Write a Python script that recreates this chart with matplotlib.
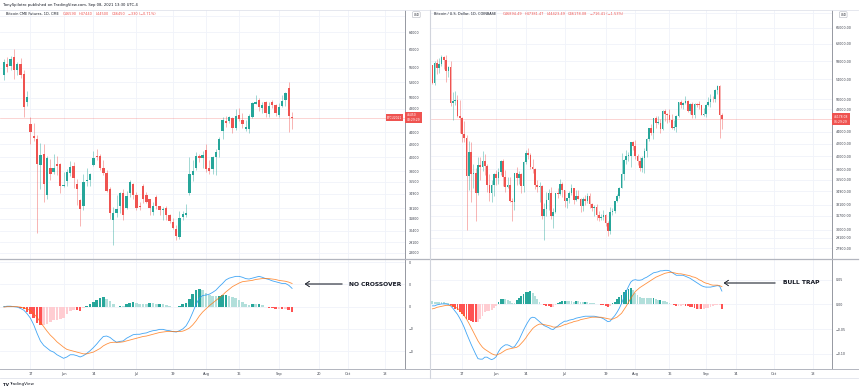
import matplotlib
matplotlib.use('Agg')
import matplotlib.pyplot as plt
from matplotlib.lines import Line2D
from matplotlib.ticker import NullLocator
import numpy as np

W, H = 860, 391

# Bitcoin CME futures, one bar per trading day, May 5 - Sep 8 2021
cme_open = [54500, 56800, 56300, 58200, 55600, 56700, 54600, 49200, 45300, 43400,
            42900, 38900, 40600, 34700, 38400, 37900, 39000, 39000, 36000, 36600,
            37800, 38800, 36200, 34100, 33400, 36600, 36800, 38900, 40300, 40200,
            38500, 37700, 35500, 31700, 32500, 33400, 35000, 33100, 35000, 36200,
            34800, 33400, 36000, 34800, 34200, 32600, 34500, 33300, 32800, 33100,
            32300, 31400, 30600, 29700, 32000, 32300, 35000, 37400, 38400, 40300,
            39900, 41200, 38400, 38300, 40000, 41100, 44200, 45800, 45800, 46300,
            44600, 46900, 46000, 44500, 44500, 46600, 48900, 49600, 48100, 49300,
            47100, 49200, 48700, 46900, 48600, 49600, 51900, 46590]
cme_high = [57800, 58300, 58400, 60000, 57200, 58000, 55500, 51400, 46600, 45600,
            43500, 42300, 42100, 40200, 39800, 40500, 40300, 39200, 37900, 38300,
            39500, 39300, 36900, 34300, 37600, 38400, 37800, 41000, 41300, 40500,
            39600, 38200, 35800, 33200, 34700, 35200, 35500, 35300, 36700, 36300,
            35100, 33900, 36200, 35100, 34300, 33900, 34800, 33400, 33200, 33300,
            32400, 31900, 31100, 32700, 32700, 33600, 40000, 39600, 40900, 40600,
            41000, 42000, 39600, 40300, 41300, 43200, 46500, 46700, 46800, 46500,
            47900, 48200, 47200, 46000, 47000, 49300, 50600, 49900, 49300, 49400,
            49200, 49700, 48900, 49000, 50500, 51100, 53100, 47440]
cme_low = [53500, 55200, 55500, 53600, 54400, 53800, 46500, 48500, 42100, 42500,
           30200, 35500, 33800, 34300, 36800, 37600, 37400, 35000, 35800, 36000,
           37300, 35700, 33500, 31000, 32800, 35900, 35900, 38700, 39600, 38200,
           37500, 35200, 31800, 28800, 32000, 32500, 31600, 33000, 34500, 34200,
           32900, 32800, 33700, 33700, 32300, 32300, 33000, 32300, 31700, 31700,
           31300, 30600, 29400, 29500, 31700, 32000, 34800, 36600, 38200, 39300,
           38400, 37900, 37600, 37600, 37500, 40000, 42900, 44800, 45500, 43800,
           44300, 45800, 44600, 44200, 43900, 46400, 48800, 47600, 47300, 46600,
           46500, 48100, 46800, 46600, 48400, 48500, 44000, 44500]
cme_close = [57200, 56100, 57800, 55600, 56700, 54500, 48400, 50100, 44000, 43000,
             39000, 40400, 36200, 39900, 37600, 38400, 38700, 36000, 36100, 37900,
             38600, 37000, 35600, 33000, 36500, 36800, 37600, 39900, 40100, 38500,
             37700, 35300, 32500, 32500, 33000, 35000, 32200, 34600, 36500, 34800,
             33100, 33200, 34200, 33800, 33100, 33400, 33400, 32800, 33000, 32200,
             31500, 30700, 29800, 31900, 32400, 32500, 37600, 38000, 40300, 39900,
             40400, 38300, 38000, 40000, 40800, 42900, 46000, 45600, 46500, 44600,
             46700, 46200, 45300, 44800, 46700, 49000, 49300, 48300, 48700, 47200,
             48600, 48700, 47300, 48400, 49500, 50900, 46780, 46450]
cme_macd = [0.000, 0.001, 0.001, 0.000, -0.001, -0.004, -0.008, -0.016, -0.026, -0.041,
            -0.060, -0.077, -0.087, -0.093, -0.099, -0.102, -0.108, -0.112, -0.116, -0.113,
            -0.108, -0.108, -0.110, -0.113, -0.110, -0.105, -0.099, -0.092, -0.084, -0.075,
            -0.067, -0.066, -0.069, -0.075, -0.080, -0.078, -0.077, -0.071, -0.067, -0.063,
            -0.062, -0.062, -0.060, -0.059, -0.056, -0.054, -0.053, -0.051, -0.051, -0.053,
            -0.054, -0.056, -0.057, -0.054, -0.050, -0.043, -0.030, -0.013, 0.005, 0.019,
            0.025, 0.026, 0.028, 0.032, 0.037, 0.045, 0.052, 0.060, 0.064, 0.066,
            0.068, 0.068, 0.066, 0.063, 0.062, 0.064, 0.066, 0.068, 0.066, 0.063,
            0.061, 0.058, 0.056, 0.054, 0.052, 0.052, 0.048, 0.041]
cme_signal = [-0.001, 0.000, 0.000, 0.000, 0.000, -0.001, -0.003, -0.005, -0.009, -0.016,
              -0.024, -0.035, -0.045, -0.055, -0.064, -0.071, -0.079, -0.085, -0.091, -0.096,
              -0.098, -0.100, -0.102, -0.104, -0.106, -0.106, -0.104, -0.102, -0.098, -0.094,
              -0.088, -0.084, -0.081, -0.080, -0.080, -0.080, -0.079, -0.077, -0.075, -0.073,
              -0.071, -0.069, -0.067, -0.066, -0.064, -0.062, -0.060, -0.058, -0.057, -0.056,
              -0.056, -0.056, -0.056, -0.056, -0.055, -0.052, -0.048, -0.041, -0.032, -0.021,
              -0.012, -0.005, 0.002, 0.008, 0.014, 0.020, 0.026, 0.033, 0.039, 0.045,
              0.049, 0.053, 0.056, 0.057, 0.058, 0.059, 0.061, 0.062, 0.063, 0.063,
              0.063, 0.062, 0.061, 0.059, 0.058, 0.057, 0.055, 0.052]
cme_date_pos = [8, 18, 27, 40, 51, 61, 71, 83, 95, 104, 115]
cme_date_lab = ['17', 'Jun', '14', 'Jul', '19', 'Aug', '16', 'Sep', '20', 'Oct', '18']
cme_price_ticks = [68000, 64000, 60000, 56000, 53000, 50000, 48000, 44000, 42000,
                   40000, 38000, 36500, 34900, 33100, 31800, 30400, 29100, 28000]
cme_macd_ticks = [0.10, 0.05, 0.0, -0.05, -0.10]
cme_macd_lab = ['0', '0', '0', '\u22120', '\u22120']

# Bitcoin / USD on Coinbase, one bar per calendar day, May 4 - Sep 8 2021
cb_first_open = 57169
cb_close = [53241, 57473, 56428, 57380, 58930, 58280, 55860, 56750, 49150, 49700,
            49900, 46760, 46450, 43540, 42900, 37000, 40700, 37300, 37500, 34700,
            38700, 38400, 39300, 38450, 35700, 34600, 35700, 37300, 36700, 37600,
            39200, 36850, 35520, 35800, 33550, 33400, 37390, 36700, 37330, 35550,
            39100, 40500, 40150, 38350, 38100, 35800, 35500, 35650, 31680, 32500,
            33700, 34660, 31600, 32200, 34650, 34450, 35870, 35040, 33570, 33900,
            34670, 35290, 33750, 34240, 33860, 32880, 33800, 33520, 34240, 33150,
            32700, 32820, 31780, 31420, 31530, 31800, 30820, 29800, 32110, 32310,
            33580, 34290, 35350, 37340, 39400, 40000, 40010, 42240, 41630, 39970,
            39200, 38150, 39750, 40870, 42820, 44560, 43800, 46370, 45590, 45590,
            44430, 47800, 47100, 47050, 46000, 44700, 44800, 46720, 49340, 48900,
            49320, 49550, 47700, 48960, 46940, 49060, 48900, 48810, 46990, 47170,
            48850, 49330, 50030, 49940, 51750, 52660, 46894.49, 46178.08]
cb_high = [57200, 57900, 58400, 58650, 59500, 59250, 59500, 56900, 58000, 51400,
           51500, 50700, 49800, 46600, 45800, 43500, 42500, 42200, 38800, 38250,
           39900, 39800, 40800, 40400, 38800, 37300, 36400, 37500, 37900, 38200,
           39400, 39500, 37900, 36800, 36800, 34000, 37500, 38400, 37700, 37400,
           39300, 41000, 41300, 40500, 39500, 38200, 36400, 36100, 35700, 33300,
           34800, 35200, 35500, 32700, 34700, 35300, 36600, 36100, 35050, 33950,
           34900, 35900, 35300, 35000, 35000, 33900, 34100, 34300, 34600, 34650,
           33300, 33100, 33200, 32250, 31950, 32400, 31900, 31000, 32800, 32600,
           33600, 34450, 35400, 40500, 39500, 40900, 40600, 42300, 42400, 42600,
           40400, 39800, 39950, 41300, 43000, 44700, 45300, 46450, 46700, 46700,
           46200, 47900, 48100, 47400, 48000, 47100, 46000, 47000, 49350, 49800,
           49500, 50500, 49850, 49200, 49350, 49150, 49300, 49650, 48900, 48250,
           49100, 50350, 51000, 50500, 51900, 52800, 52900, 47381.47]
cb_low = [53100, 52900, 55200, 55300, 56900, 56200, 53400, 54400, 48600, 46000,
          48800, 46600, 43800, 42200, 42300, 30000, 35000, 33500, 35300, 31100,
          34300, 36400, 37800, 37200, 34800, 33600, 33400, 34200, 35700, 35900,
          37200, 35600, 34800, 35300, 33400, 31000, 32400, 35800, 35900, 34700,
          34800, 38800, 39500, 38100, 37500, 35200, 34800, 33400, 31300, 28800,
          31700, 32400, 31300, 30200, 32000, 33900, 34300, 34100, 32800, 32700,
          33350, 34400, 33200, 33600, 33800, 32200, 32300, 33000, 33300, 32700,
          32300, 31600, 31200, 31100, 31200, 31200, 30500, 29300, 29500, 31750,
          32000, 33400, 33900, 35300, 36400, 38800, 39300, 38300, 41000, 39500,
          38700, 37700, 37600, 37500, 39900, 42500, 43500, 42800, 44700, 45400,
          43800, 44300, 45900, 45600, 45700, 44400, 44300, 43900, 46600, 48300,
          48100, 49000, 47600, 47150, 46400, 46400, 48400, 48100, 46900, 46800,
          46600, 48700, 48400, 49500, 49500, 51050, 42900, 44423.49]
cb_macd = [-0.003, -0.003, -0.001, 0.000, 0.001, 0.001, 0.001, 0.000, -0.003, -0.008,
           -0.014, -0.020, -0.028, -0.037, -0.047, -0.059, -0.070, -0.081, -0.091, -0.101,
           -0.110, -0.111, -0.111, -0.107, -0.107, -0.110, -0.112, -0.110, -0.106, -0.096,
           -0.089, -0.085, -0.082, -0.082, -0.084, -0.087, -0.086, -0.079, -0.072, -0.062,
           -0.052, -0.043, -0.035, -0.028, -0.026, -0.027, -0.031, -0.035, -0.039, -0.043,
           -0.045, -0.047, -0.050, -0.051, -0.047, -0.044, -0.040, -0.037, -0.034, -0.034,
           -0.032, -0.031, -0.030, -0.028, -0.027, -0.026, -0.025, -0.024, -0.024, -0.024,
           -0.024, -0.024, -0.025, -0.026, -0.027, -0.029, -0.032, -0.035, -0.034, -0.028,
           -0.023, -0.016, -0.008, 0.002, 0.014, 0.026, 0.036, 0.045, 0.049, 0.050,
           0.049, 0.049, 0.050, 0.053, 0.055, 0.058, 0.061, 0.064, 0.065, 0.066,
           0.068, 0.068, 0.069, 0.069, 0.068, 0.065, 0.062, 0.059, 0.059, 0.059,
           0.059, 0.057, 0.055, 0.053, 0.050, 0.047, 0.044, 0.041, 0.038, 0.036,
           0.035, 0.035, 0.035, 0.036, 0.037, 0.038, 0.037, 0.027]
cb_signal = [-0.009, -0.008, -0.006, -0.005, -0.004, -0.003, -0.002, -0.002, -0.002, -0.003,
             -0.005, -0.008, -0.012, -0.017, -0.023, -0.030, -0.038, -0.047, -0.056, -0.065,
             -0.074, -0.081, -0.087, -0.091, -0.094, -0.097, -0.100, -0.102, -0.103, -0.101,
             -0.099, -0.096, -0.093, -0.091, -0.090, -0.089, -0.088, -0.087, -0.084, -0.079,
             -0.074, -0.068, -0.061, -0.055, -0.049, -0.045, -0.042, -0.040, -0.040, -0.041,
             -0.042, -0.043, -0.044, -0.046, -0.046, -0.046, -0.045, -0.043, -0.041, -0.040,
             -0.038, -0.037, -0.035, -0.034, -0.033, -0.031, -0.030, -0.029, -0.028, -0.027,
             -0.026, -0.026, -0.026, -0.026, -0.026, -0.027, -0.028, -0.029, -0.030, -0.030,
             -0.028, -0.026, -0.022, -0.018, -0.011, -0.004, 0.004, 0.012, 0.019, 0.026,
             0.030, 0.034, 0.037, 0.040, 0.043, 0.046, 0.049, 0.052, 0.055, 0.057,
             0.059, 0.061, 0.063, 0.064, 0.065, 0.065, 0.064, 0.063, 0.062, 0.062,
             0.061, 0.060, 0.059, 0.058, 0.056, 0.055, 0.053, 0.050, 0.048, 0.045,
             0.043, 0.042, 0.040, 0.039, 0.039, 0.039, 0.038, 0.036]
cb_date_pos = [13, 28, 41, 58, 76, 89, 104, 120, 133, 150, 167]
cb_date_lab = ['17', 'Jun', '14', 'Jul', '19', 'Aug', '16', 'Sep', '14', 'Oct', '18']
cb_price_ticks = [70000, 66000, 62000, 58000, 54000, 50000, 48000, 44000, 42000,
                  40000, 38000, 36500, 34900, 33100, 31700, 30000, 29100, 27900]
cb_macd_ticks = [0.05, 0.0, -0.05, -0.10]
cb_macd_lab = ['0.05', '0.00', '\u22120.05', '\u22120.10']

UP = '#26a69a'
DOWN = '#ef5350'
GRID = '#f0f3fa'
SEP = '#b2b5be'
TXT = '#131722'
LBL = '#3a3e4a'


def rect(x0, y0, x1, y1):
    # pixel box with top-left origin -> figure fraction rect
    return [x0 / W, 1 - y1 / H, (x1 - x0) / W, (y1 - y0) / H]


def hline(y, x0, x1, color, lw):
    fig.add_artist(Line2D([x0 / W, x1 / W], [1 - y / H, 1 - y / H],
                          transform=fig.transFigure, color=color, lw=lw))


def vline(x, y0, y1, color, lw):
    fig.add_artist(Line2D([x / W, x / W], [1 - y0 / H, 1 - y1 / H],
                          transform=fig.transFigure, color=color, lw=lw))


def candles(ax, o, h, l, c):
    o, h, l, c = (np.asarray(v, float) for v in (o, h, l, c))
    x = np.arange(len(c))
    cols = np.where(c >= o, UP, DOWN)
    ax.vlines(x, l, h, colors=cols, lw=0.5, alpha=0.6, zorder=2)
    bottom = np.minimum(o, c)
    height = np.maximum(np.abs(c - o), bottom * 0.003)
    ax.bar(x, height, 0.72, bottom, color=cols, lw=0, zorder=3)


def macd_panel(ax, macd, signal):
    macd = np.asarray(macd)
    signal = np.asarray(signal)
    x = np.arange(len(macd))
    hist = macd - signal
    cols = []
    prev = hist[0]
    for hv in hist:
        if hv >= 0:
            cols.append('#26a69a' if hv > prev else '#b2dfdb')
        else:
            cols.append('#ff5252' if hv < prev else '#ffcdd2')
        prev = hv
    ax.bar(x, hist, 0.8, color=cols, lw=0, zorder=2)
    ax.plot(x, macd, color='#2196f3', lw=0.6, alpha=0.85, zorder=3)
    ax.plot(x, signal, color='#ff6d00', lw=0.6, alpha=0.75, zorder=3)


def style(ax, xlim, dpos, dlab, show_dates):
    ax.set_xlim(*xlim)
    ax.set_xticks(dpos)
    ax.set_xticklabels(dlab if show_dates else [])
    ax.yaxis.tick_right()
    ax.tick_params(length=0, labelsize=2.3, colors=LBL, pad=2.6)
    ax.tick_params(axis='x', labelsize=2.5, pad=2.4, labelbottom=show_dates)
    for s in ['left', 'top', 'bottom']:
        ax.spines[s].set_visible(False)
    ax.spines['right'].set_color('#9598a1')
    ax.spines['right'].set_linewidth(0.7)
    ax.grid(True, color=GRID, lw=0.6)
    ax.set_axisbelow(True)


fig = plt.figure(figsize=(W / 100, H / 100), dpi=100)
fig.patch.set_facecolor('white')

panels = [
    dict(x0=0, x1=405, xlim=(-1.2, 121.1), o=cme_open, h=cme_high, l=cme_low, c=cme_close,
         macd=cme_macd, sig=cme_signal, dpos=cme_date_pos, dlab=cme_date_lab,
         pticks=cme_price_ticks, pfmt='{:.0f}', ylim=(27350, 69500),
         mticks=cme_macd_ticks, mlab=cme_macd_lab, mylim=(-0.140, 0.107),
         tag='46450\n03:29:29', sym='BTCU2021'),
    dict(x0=431, x1=832, xlim=(-0.6, 175.3), o=[cb_first_open] + cb_close[:-1], h=cb_high,
         l=cb_low, c=cb_close, macd=cb_macd, sig=cb_signal, dpos=cb_date_pos, dlab=cb_date_lab,
         pticks=cb_price_ticks, pfmt='{:.2f}', ylim=(26760, 70800),
         mticks=cb_macd_ticks, mlab=cb_macd_lab, mylim=(-0.131, 0.092),
         tag='46178.08\n06:29:29', sym=None),
]

for p in panels:
    ax = fig.add_axes(rect(p['x0'], 10, p['x1'], 259))
    ax.set_yscale('log')
    candles(ax, p['o'], p['h'], p['l'], p['c'])
    ax.axhline(p['c'][-1], color=DOWN, lw=0.5, alpha=0.35, zorder=1)
    ax.set_ylim(*p['ylim'])
    ax.set_yticks(p['pticks'])
    # the topmost level sits under the USD badge, so only its grid line is kept
    ax.set_yticklabels([''] + [p['pfmt'].format(t) for t in p['pticks'][1:]])
    ax.yaxis.set_minor_locator(NullLocator())
    style(ax, p['xlim'], p['dpos'], p['dlab'], False)
    tr = ax.get_yaxis_transform()
    ax.text(1.004, p['c'][-1], p['tag'], transform=tr, ha='left', va='center',
            fontsize=2.2, color='white', linespacing=1.25, clip_on=False, zorder=10,
            bbox=dict(boxstyle='square,pad=0.5', fc=DOWN, ec='none'))
    if p['sym']:
        ax.text(0.993, p['c'][-1], p['sym'], transform=tr, ha='right', va='center',
                fontsize=2.2, color='white', clip_on=False, zorder=10,
                bbox=dict(boxstyle='square,pad=0.4', fc=DOWN, ec='none'))
    ax.text(1.028, 0.981, 'USD', transform=ax.transAxes, ha='center', va='center',
            fontsize=2.0, color=TXT, clip_on=False, zorder=10,
            bbox=dict(boxstyle='round,pad=0.35', fc='white', ec=SEP, lw=0.4))

    mx = fig.add_axes(rect(p['x0'], 259, p['x1'], 369))
    macd_panel(mx, p['macd'], p['sig'])
    mx.set_ylim(*p['mylim'])
    mx.set_yticks(p['mticks'])
    mx.set_yticklabels(p['mlab'])
    style(mx, p['xlim'], p['dpos'], p['dlab'], True)

# panel borders
for x0, x1 in [(0, 429), (431, 858)]:
    hline(10, x0, x1, '#e0e3eb', 0.6)
    hline(259, x0, x1, SEP, 0.9)
    hline(369, x0, x1, SEP, 0.7)
    hline(378, x0, x1, '#e0e3eb', 0.6)
vline(430, 10, 378, '#d1d4dc', 0.8)

fig.text(3 / W, 1 - 5 / H, 'TonySpilotro published on TradingView.com, Sep 08, 2021 13:30 UTC-4',
         fontsize=2.7, color=TXT, va='center')

# legends
chg_l = cme_close[-1] - cme_close[-2]
chg_r = cb_close[-1] - cb_close[-2]
legends = [
    [('Bitcoin CME Futures, 1D, CME', 6, TXT), ('O%d' % cme_open[-1], 63, DOWN),
     ('H%d' % cme_high[-1], 79, DOWN), ('L%d' % cme_low[-1], 96, DOWN),
     ('C%d' % cme_close[-1], 112, DOWN),
     ('\u2212%d (\u2212%.2f%%)' % (-chg_l, -chg_l / cme_close[-2] * 100), 128, DOWN)],
    [('Bitcoin / U.S. Dollar, 1D, COINBASE', 434, TXT), ('O%.2f' % cb_close[-2], 503, DOWN),
     ('H%.2f' % cb_high[-1], 525, DOWN), ('L%.2f' % cb_low[-1], 547, DOWN),
     ('C%.2f' % cb_close[-1], 568, DOWN),
     ('\u2212%.2f (\u2212%.2f%%)' % (-chg_r, -chg_r / cb_close[-2] * 100), 590, DOWN)],
]
for items in legends:
    for s, x, col in items:
        fig.text(x / W, 1 - 14.3 / H, s, fontsize=2.5, color=col, va='center')

# annotations
for label, head, tail, tx, y in [('NO CROSSOVER', 302, 345, 349, 284),
                                 ('BULL TRAP', 721, 778, 783, 283)]:
    fig.add_artist(plt.annotate('', xy=(head / W, 1 - y / H), xytext=(tail / W, 1 - y / H),
                                xycoords='figure fraction', textcoords='figure fraction',
                                arrowprops=dict(arrowstyle='->,head_length=0.3,head_width=0.2',
                                                lw=0.5, color='#2a2e39')))
    fig.text(tx / W, 1 - y / H, label, fontsize=4.3, fontweight='bold', color=TXT, va='center')

fig.text(3 / W, 1 - 384.5 / H, 'TV', fontsize=3.0, fontweight='bold', color=TXT, va='center')
fig.text(9.5 / W, 1 - 384.5 / H, 'TradingView', fontsize=3.0, color=TXT, va='center')

fig.savefig('out.png', dpi=100, facecolor='white')
